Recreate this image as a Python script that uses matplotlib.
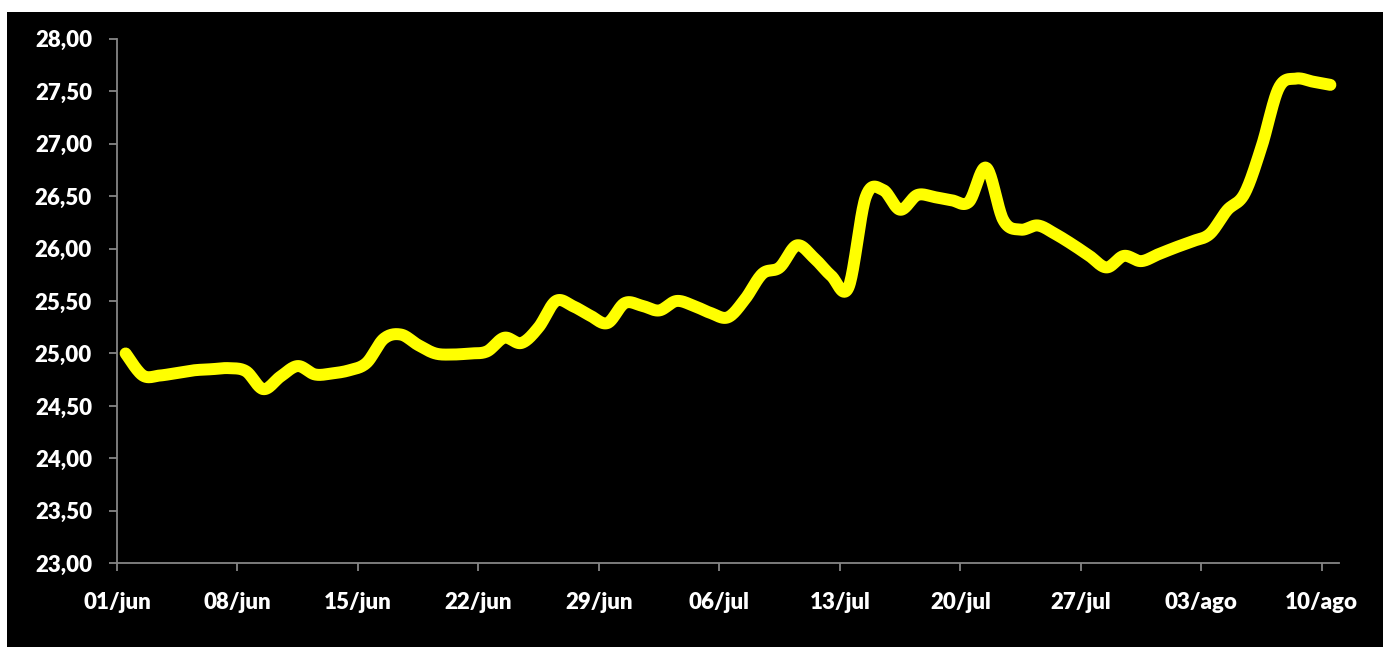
import matplotlib
matplotlib.use("Agg")
import matplotlib.pyplot as plt
from matplotlib.patches import Rectangle
import numpy as np

# daily quote, 01/jun .. 10/ago (one value per calendar day)
days = list(range(71))
values = [
    25.00, 24.79, 24.79, 24.815, 24.84, 24.85, 24.86, 24.83, 24.66, 24.78,
    24.88, 24.80, 24.81, 24.84, 24.91, 25.14, 25.18, 25.08, 25.00, 24.99,
    25.00, 25.02, 25.15, 25.10, 25.25, 25.50, 25.45, 25.36, 25.29, 25.48,
    25.455, 25.41, 25.50, 25.455, 25.385, 25.345, 25.52, 25.76, 25.82, 26.03,
    25.91, 25.74, 25.63, 26.49, 26.56, 26.37, 26.51, 26.49, 26.46, 26.445,
    26.77, 26.27, 26.18, 26.22, 26.14, 26.04, 25.93, 25.82, 25.93, 25.88,
    25.945, 26.01, 26.07, 26.14, 26.365, 26.52, 26.97, 27.53, 27.62, 27.59,
    27.56,
]
tick_days = [0, 7, 14, 21, 28, 35, 42, 49, 56, 63, 70]
tick_labels = ["01/jun", "08/jun", "15/jun", "22/jun", "29/jun", "06/jul",
               "13/jul", "20/jul", "27/jul", "03/ago", "10/ago"]
y_ticks = [23.0, 23.5, 24.0, 24.5, 25.0, 25.5, 26.0, 26.5, 27.0, 27.5, 28.0]


def smooth(x, y, n=24):
    # cubic bezier through every point, control points at 1/6 of the neighbour chord
    x = np.asarray(x, float); y = np.asarray(y, float)
    xs, ys = [x[0]], [y[0]]
    t = np.linspace(0, 1, n)[1:]
    for i in range(len(x) - 1):
        p0 = np.array([x[i], y[i]]); p3 = np.array([x[i + 1], y[i + 1]])
        pm = np.array([x[i - 1], y[i - 1]]) if i > 0 else p0
        pp = np.array([x[i + 2], y[i + 2]]) if i + 2 < len(x) else p3
        p1 = p0 + (p3 - pm) / 6
        p2 = p3 - (pp - p0) / 6
        b = ((1 - t) ** 3)[:, None] * p0 + (3 * (1 - t) ** 2 * t)[:, None] * p1 \
            + (3 * (1 - t) * t ** 2)[:, None] * p2 + (t ** 3)[:, None] * p3
        xs.extend(b[:, 0]); ys.extend(b[:, 1])
    return np.array(xs), np.array(ys)


plt.rcParams["font.family"] = ["Lato", "DejaVu Sans"]
plt.rcParams["font.weight"] = "bold"

fig = plt.figure(figsize=(13.91, 6.47), dpi=100, facecolor="white")
fig.patches.append(Rectangle((7 / 1391, 0), 1376 / 1391, 635 / 647,
                             transform=fig.transFigure, facecolor="black",
                             edgecolor="none", zorder=-10))
ax = fig.add_axes([117 / 1391, 1 - 563.3 / 647, 1222 / 1391, 524.6 / 647])
ax.set_zorder(1)
ax.set_facecolor("black")

sx, sy = smooth(np.array(days) + 0.5, values)
ax.plot(sx, sy, color="#FFFF00", lw=8.6, solid_capstyle="round",
        solid_joinstyle="round", clip_on=False)

ax.set_xlim(0, 71)
ax.set_ylim(23, 28)
ax.set_xticks(tick_days)
ax.set_xticklabels(tick_labels)
ax.set_yticks(y_ticks)
ax.set_yticklabels([f"{v:.2f}".replace(".", ",") for v in y_ticks])

for s in ("top", "right"):
    ax.spines[s].set_visible(False)
for s in ("left", "bottom"):
    ax.spines[s].set_color("#868686")
    ax.spines[s].set_linewidth(1.3)
ax.tick_params(axis="both", colors="#868686", width=1.3, length=6,
               labelcolor="white", labelsize=16)
ax.tick_params(axis="y", pad=12)
ax.tick_params(axis="x", pad=15)
for lab in ax.get_xticklabels() + ax.get_yticklabels():
    lab.set_fontweight("heavy")

fig.savefig("out.png", dpi=100, facecolor="white")
